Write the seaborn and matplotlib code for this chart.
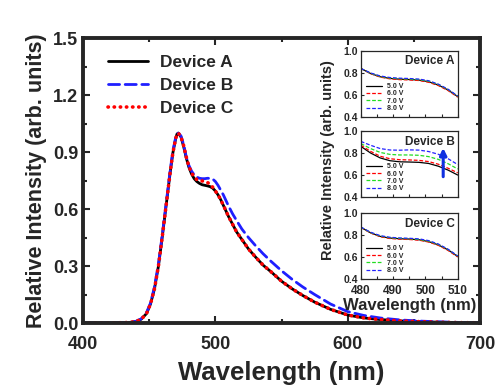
import matplotlib
matplotlib.use("Agg")
import matplotlib.pyplot as plt
import numpy as np
import pandas as pd
import seaborn as sns
from matplotlib.ticker import MultipleLocator

# main spectra
wl = [400, 420, 435, 440, 444, 448, 451, 454, 457, 460, 463, 466, 468, 470, 471, 472,
      474, 476, 478, 480, 482, 484, 486, 488, 490, 492, 494, 496, 498, 500, 502, 504,
      506, 508, 510, 513, 516, 520, 525, 530, 536, 542, 550, 558, 566, 575, 587, 600,
      612, 625, 640, 655, 670, 685, 700]
dev_a = [0, 0, 0.003, 0.008, 0.02, 0.05, 0.1, 0.18, 0.3, 0.46, 0.63, 0.8, 0.9, 0.97, 0.995, 1.0,
         0.98, 0.93, 0.87, 0.82, 0.785, 0.76, 0.745, 0.735, 0.728, 0.725, 0.722, 0.718, 0.71, 0.695, 0.675, 0.65,
         0.62, 0.59, 0.56, 0.52, 0.48, 0.44, 0.39, 0.35, 0.305, 0.27, 0.22, 0.18, 0.145, 0.11, 0.072, 0.042,
         0.027, 0.018, 0.011, 0.007, 0.004, 0.002, 0.001]
dev_b = [0, 0, 0.003, 0.009, 0.022, 0.055, 0.105, 0.19, 0.31, 0.47, 0.64, 0.81, 0.91, 0.975, 0.995, 1.0,
         0.985, 0.94, 0.875, 0.83, 0.8, 0.78, 0.768, 0.762, 0.76, 0.76, 0.762, 0.762, 0.758, 0.745, 0.725, 0.70,
         0.675, 0.645, 0.615, 0.575, 0.54, 0.495, 0.45, 0.41, 0.365, 0.325, 0.275, 0.23, 0.19, 0.15, 0.1, 0.06,
         0.04, 0.026, 0.016, 0.01, 0.006, 0.003, 0.002]
dev_c = [0, 0, 0.003, 0.008, 0.02, 0.05, 0.1, 0.18, 0.3, 0.46, 0.63, 0.8, 0.9, 0.97, 0.995, 1.0,
         0.98, 0.935, 0.875, 0.825, 0.79, 0.77, 0.755, 0.75, 0.748, 0.745, 0.74, 0.73, 0.715, 0.695, 0.675, 0.65,
         0.62, 0.59, 0.56, 0.52, 0.48, 0.44, 0.39, 0.35, 0.305, 0.27, 0.22, 0.18, 0.145, 0.11, 0.072, 0.042,
         0.027, 0.018, 0.011, 0.007, 0.004, 0.002, 0.001]

# insets: voltage dependence, 480-510 nm
wl_in = [480, 483, 486, 489, 492, 495, 498, 501, 504, 507, 510]
volts = ["5.0 V", "6.0 V", "7.0 V", "8.0 V"]
in_a = [[0.84, 0.795, 0.765, 0.75, 0.743, 0.740, 0.735, 0.72, 0.69, 0.645, 0.585],
        [0.84, 0.793, 0.762, 0.746, 0.739, 0.736, 0.731, 0.715, 0.685, 0.640, 0.58],
        [0.84, 0.797, 0.768, 0.753, 0.747, 0.744, 0.739, 0.724, 0.694, 0.649, 0.588],
        [0.84, 0.8, 0.772, 0.758, 0.752, 0.749, 0.744, 0.729, 0.698, 0.652, 0.59]]
in_b = [[0.86, 0.80, 0.755, 0.73, 0.72, 0.718, 0.715, 0.705, 0.68, 0.645, 0.60],
        [0.87, 0.815, 0.77, 0.748, 0.739, 0.737, 0.733, 0.722, 0.698, 0.662, 0.62],
        [0.885, 0.84, 0.805, 0.787, 0.782, 0.782, 0.779, 0.767, 0.742, 0.703, 0.655],
        [0.905, 0.87, 0.84, 0.827, 0.825, 0.828, 0.826, 0.813, 0.788, 0.748, 0.695]]
in_c = [[0.87, 0.82, 0.787, 0.772, 0.766, 0.763, 0.757, 0.74, 0.71, 0.665, 0.605],
        [0.868, 0.818, 0.784, 0.768, 0.762, 0.759, 0.753, 0.736, 0.706, 0.66, 0.6],
        [0.87, 0.822, 0.79, 0.775, 0.769, 0.766, 0.76, 0.744, 0.714, 0.668, 0.608],
        [0.872, 0.825, 0.794, 0.779, 0.773, 0.77, 0.765, 0.749, 0.718, 0.671, 0.61]]

sns.set_style("ticks")
plt.rcParams['font.family'] = ['Liberation Sans', 'DejaVu Sans']
plt.rcParams['font.weight'] = 'bold'
plt.rcParams['xtick.direction'] = 'in'
plt.rcParams['ytick.direction'] = 'in'

fig = plt.figure(figsize=(4.97, 3.85), dpi=100)
ax = fig.add_axes([0.167, 0.161, 0.799, 0.740])

df = pd.DataFrame({'wl': wl * 3,
                   'val': dev_a + dev_b + dev_c,
                   'dev': ['Device A'] * len(wl) + ['Device B'] * len(wl) + ['Device C'] * len(wl)})
styles = {'Device A': ('black', '-'), 'Device B': ('#1f1fff', (0, (4, 2))), 'Device C': ('red', (0, (0.1, 1.6)))}
for name, (col, ls) in styles.items():
    sub = df[df['dev'] == name]
    sns.lineplot(data=sub, x='wl', y='val', ax=ax, color=col, lw=2 if name != 'Device C' else 2.6,
                 linestyle=ls, label=name, dash_capstyle='round')

ax.set_xlim(400, 700)
ax.set_ylim(0, 1.5)
ax.xaxis.set_major_locator(MultipleLocator(100))
ax.xaxis.set_minor_locator(MultipleLocator(50))
ax.yaxis.set_major_locator(MultipleLocator(0.3))
ax.yaxis.set_minor_locator(MultipleLocator(0.15))
ax.tick_params(which='both', top=True, right=True, width=1.5, labelsize=13)
ax.tick_params(which='major', length=5)
ax.tick_params(which='minor', length=3)
ax.tick_params(axis='x', pad=9)
for s in ax.spines.values():
    s.set_linewidth(2.8)
ax.set_xlabel('Wavelength (nm)', fontsize=18.5, fontweight='bold', labelpad=6)
ax.set_ylabel('Relative Intensity (arb. units)', fontsize=15.5, fontweight='bold', labelpad=4)
ax.legend(loc='upper left', frameon=False, fontsize=12.5, handlelength=2.3, handletextpad=0.7,
          borderaxespad=0.0, labelspacing=0.45, bbox_to_anchor=(0.045, 0.965))

# insets
vcols = ['black', 'red', '#22dd22', '#2222ff']
vls = ['-', (0, (3, 1.5)), (0, (3, 1.5)), (0, (3, 1.5))]
boxes = [0.696, 0.488, 0.275]
insets = []
for k, (data, title) in enumerate(zip([in_a, in_b, in_c], ['Device A', 'Device B', 'Device C'])):
    iax = fig.add_axes([0.726, boxes[k], 0.195, 0.172])
    for v, vals, c, ls in zip(volts, data, vcols, vls):
        sns.lineplot(x=wl_in, y=vals, ax=iax, color=c, linestyle=ls, lw=0.9, label=v)
    iax.set_xlim(480, 510)
    iax.set_ylim(0.4, 1.0)
    iax.xaxis.set_major_locator(MultipleLocator(10))
    iax.xaxis.set_minor_locator(MultipleLocator(5))
    iax.yaxis.set_major_locator(MultipleLocator(0.2))
    iax.tick_params(which='both', labelsize=7.5, length=2, width=0.8, pad=2)
    for s in iax.spines.values():
        s.set_linewidth(0.9)
    iax.set_xlabel('')
    if k < 2:
        iax.set_xticklabels([])
    else:
        iax.tick_params(axis='x', labelsize=8.5, pad=4)
    iax.text(0.97, 0.93, title, transform=iax.transAxes, ha='right', va='top',
             fontsize=8.5, fontweight='bold')
    iax.legend(loc='lower left', frameon=False, fontsize=5, handlelength=2.4,
               labelspacing=0.05, borderaxespad=0.3, handletextpad=0.6)
    insets.append(iax)

# arrow in device B inset
insets[1].annotate('', xy=(505.5, 0.87), xytext=(505.5, 0.56),
                   arrowprops=dict(arrowstyle='-|>', color='#1030e0', lw=2.2, mutation_scale=10))

insets[2].set_xlabel('Wavelength (nm)', fontsize=12, fontweight='bold', labelpad=1)
fig.text(0.66, 0.585, 'Relative Intensity (arb. units)', rotation=90, ha='center', va='center',
         fontsize=10.5, fontweight='bold')

fig.savefig('out.png', dpi=100)
